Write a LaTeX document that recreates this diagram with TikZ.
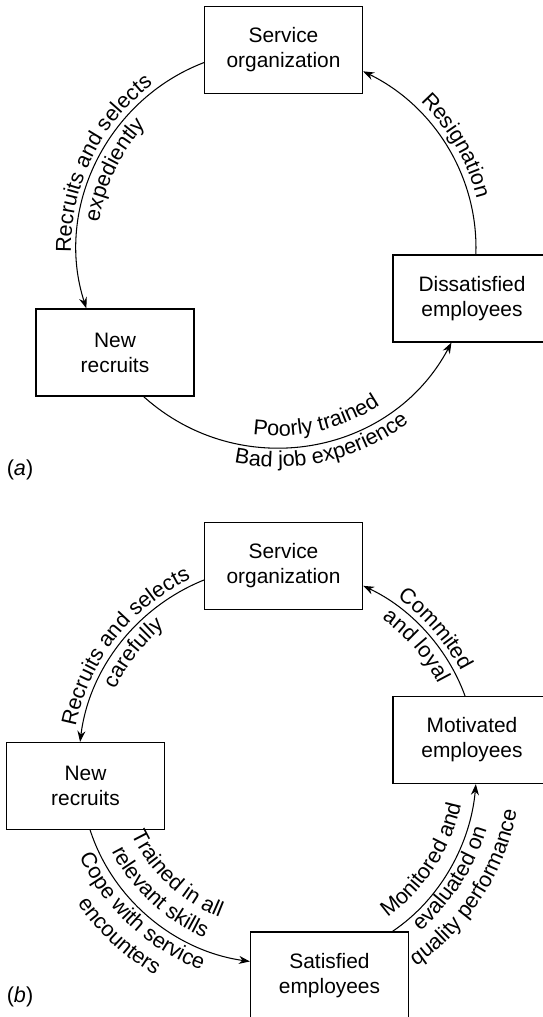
\documentclass[tikz,border=0pt]{standalone}
\usepackage{fontspec}
\setmainfont{Liberation Sans}
\usetikzlibrary{arrows.meta, decorations.text}
\newcommand{\boxfont}{\fontsize{11.9}{14.2}\selectfont}
\newcommand{\lblfont}{\fontsize{12.3}{14.6}\selectfont}
\tikzset{
    box/.style={rectangle, draw=black, line width=0.7pt, minimum width=3.16cm, minimum height=1.74cm, inner sep=0pt, text centered, align=center, font=\boxfont},
    arrow/.style={-{Stealth[length=2.2mm, width=1.6mm]}, line width=0.6pt},
    arclabel/.style={decorate, decoration={text along path, text align=center, text={|\lblfont|#1}}}
}

\begin{document}
\begin{tikzpicture}[x=0.02cm, y=0.02cm]
    \useasboundingbox (0,0) rectangle (543,1017);

    % (a) Cycle of failure
    \coordinate (ctr_a) at (277, 768);
    \node (so_a) [box] at (283.5, 967) {Service \\ organization};
    \node (nr_a) [box] at (115, 664.5) {New \\ recruits};
    \node (dis_a) [box] at (472, 718.5) {Dissatisfied \\ employees};
    \node (tag_a) [font=\lblfont] at (20, 547) {(\textit{a})};

    % (a) Arrows
    \draw [arrow] (so_a.189) to[out=201, in=108, looseness=0.98] (nr_a.123);
    \draw [arrow] (nr_a.303) to[out=318, in=242, looseness=1.06] (dis_a.245);
    \draw [arrow] (dis_a.85) to[out=88, in=334, looseness=0.93] (so_a.345);

    % (a) Labels along the arcs
    \path [arclabel={Recruits and selects}] ([shift={(204:206)}]ctr_a) arc[start angle=204, end angle=104, radius=206];
    \path [arclabel={expediently}] ([shift={(204:180)}]ctr_a) arc[start angle=204, end angle=104, radius=180];
    \path [arclabel={Resignation}] ([shift={(80:206)}]ctr_a) arc[start angle=80, end angle=-20, radius=206];
    \path [arclabel={Poorly trained}] ([shift={(233:187)}]ctr_a) arc[start angle=233, end angle=333, radius=187];
    \path [arclabel={Bad job experience}] ([shift={(233:218)}]ctr_a) arc[start angle=233, end angle=333, radius=218];

    % (b) Cycle of success
    \coordinate (ctr_b) at (278, 251);
    \node (so_b) [box] at (283.5, 451) {Service \\ organization};
    \node (nr_b) [box] at (85.5, 231) {New \\ recruits};
    \node (mot_b) [box] at (472, 277) {Motivated \\ employees};
    \node (sat_b) [box] at (329.5, 41.5) {Satisfied \\ employees};
    \node (tag_b) [font=\lblfont] at (20, 20) {(\textit{b})};

    % (b) Arrows
    \draw [arrow] (so_b.190) to[out=202, in=83, looseness=0.92] (nr_b.97);
    \draw [arrow] (nr_b.276) to[out=288, in=172, looseness=0.92] (sat_b.170);
    \draw [arrow] (sat_b.35) to[out=34, in=265, looseness=0.89] (mot_b.275);
    \draw [arrow] (mot_b.99) to[out=110, in=335, looseness=0.88] (so_b.346);

    % (b) Labels along the arcs
    \path [arclabel={Recruits and selects}] ([shift={(192:206)}]ctr_b) arc[start angle=192, end angle=92, radius=206];
    \path [arclabel={carefully}] ([shift={(192:180)}]ctr_b) arc[start angle=192, end angle=92, radius=180];
    \path [arclabel={Commited}] ([shift={(91:206)}]ctr_b) arc[start angle=91, end angle=-9, radius=206];
    \path [arclabel={and loyal}] ([shift={(91:180)}]ctr_b) arc[start angle=91, end angle=-9, radius=180];
    \path [arclabel={Trained in all}] ([shift={(177:162)}]ctr_b) arc[start angle=177, end angle=277, radius=162];
    \path [arclabel={relevant skills}] ([shift={(177:187)}]ctr_b) arc[start angle=177, end angle=277, radius=187];
    \path [arclabel={Cope with service}] ([shift={(177:218)}]ctr_b) arc[start angle=177, end angle=277, radius=218];
    \path [arclabel={encounters}] ([shift={(177:243)}]ctr_b) arc[start angle=177, end angle=277, radius=243];
    \path [arclabel={Monitored and}] ([shift={(277:187)}]ctr_b) arc[start angle=277, end angle=377, radius=187];
    \path [arclabel={evaluated on}] ([shift={(277:218)}]ctr_b) arc[start angle=277, end angle=377, radius=218];
    \path [arclabel={quality performance}] ([shift={(277:243)}]ctr_b) arc[start angle=277, end angle=377, radius=243];
\end{tikzpicture}
\end{document}
